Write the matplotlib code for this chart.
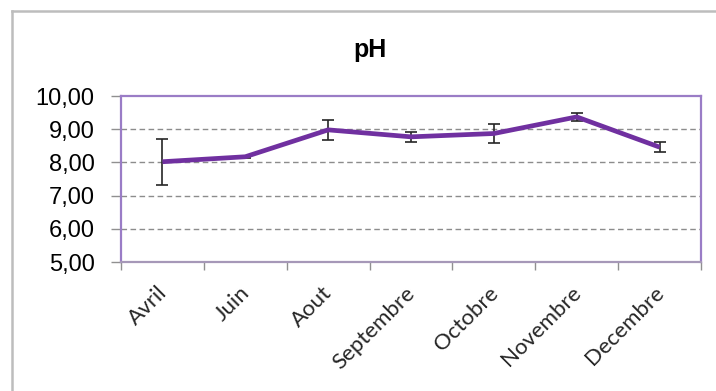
import matplotlib
matplotlib.use("Agg")
import matplotlib.pyplot as plt
from matplotlib.lines import Line2D
import matplotlib.transforms as mtransforms
import numpy as np

months = ["Avril", "Juin", "Aout", "Septembre", "Octobre", "Novembre", "Decembre"]
ph_mean = [8.02, 8.17, 8.98, 8.77, 8.87, 9.37, 8.46]
ph_err = [0.69, 0.03, 0.30, 0.15, 0.28, 0.13, 0.16]
y_ticks = [5, 6, 7, 8, 9, 10]

fig = plt.figure(figsize=(7.16, 3.91), dpi=100)
ax = fig.add_axes([121 / 716, 1 - 262 / 391, 580 / 716, 166 / 391])

x = np.arange(len(months))
ax.errorbar(x, ph_mean, yerr=ph_err, fmt="none", ecolor="#262626",
            elinewidth=1.2, capsize=4.5, capthick=1.2, zorder=2)
ax.plot(x, ph_mean, color="#7030a0", lw=3.4, solid_joinstyle="round",
        solid_capstyle="butt", zorder=3)

ax.set_xlim(-0.5, len(months) - 0.5)
ax.set_ylim(5, 10)
ax.set_yticks(y_ticks)
ax.set_yticklabels([("%.2f" % v).replace(".", ",") for v in y_ticks],
                   fontsize=17, family="Liberation Sans")
for v in y_ticks[1:-1]:
    ax.axhline(v, color="#8c8c8c", lw=1, ls=(0, (4, 2.5)), zorder=1)

ax.set_xticks(x)
ax.set_xticklabels(months, rotation=45, ha="right", va="top",
                   rotation_mode="anchor", fontsize=16, family="Lato",
                   color="#262626")
ax.tick_params(axis="x", length=0, pad=15)
# petit décalage vers la gauche des étiquettes
shift = mtransforms.ScaledTranslation(-6 / 100, 0, fig.dpi_scale_trans)
for lab in ax.get_xticklabels():
    lab.set_transform(lab.get_transform() + shift)
ax.set_xticks(np.arange(len(months) + 1) - 0.5, minor=True)
ax.tick_params(axis="x", which="minor", length=6, color="#909090", width=1)
ax.tick_params(axis="y", length=7, color="#909090", width=1, pad=12)

for side in ["top", "right", "left"]:
    ax.spines[side].set_color("#9a7cc6")
    ax.spines[side].set_linewidth(1.6)
ax.spines["bottom"].set_color("#a698b8")
ax.spines["bottom"].set_linewidth(1.6)

fig.text(370 / 716, 1 - 57 / 391, "pH", ha="center", va="baseline",
         fontsize=18, fontweight="bold", family="Liberation Sans")

# cadre du graphique
fig.add_artist(Line2D([12 / 716, 12 / 716], [0, 1 - 11 / 391],
                      color="#bdbdbd", lw=1.8))
fig.add_artist(Line2D([12 / 716, 1], [1 - 11 / 391, 1 - 11 / 391],
                      color="#bdbdbd", lw=1.8))

fig.savefig("out.png", dpi=100)
